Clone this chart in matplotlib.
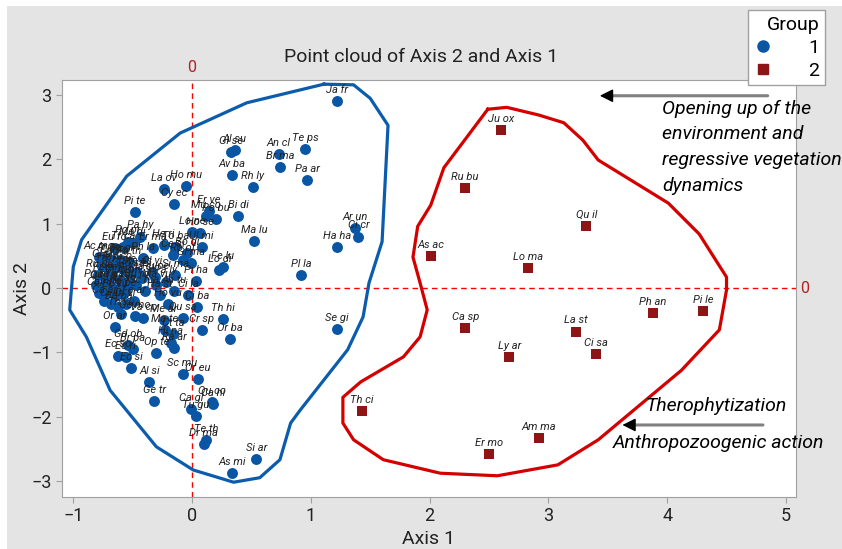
"""Point cloud of Axis 2 and Axis 1 - two groups with hulls"""
import numpy as np
import matplotlib
matplotlib.use('Agg')
import matplotlib.pyplot as plt
from matplotlib.lines import Line2D
from matplotlib.patches import Rectangle

plt.rcParams['font.family'] = ['Roboto', 'DejaVu Sans']

# ---- group 1 (blue circles) ----
g1_labels = [
    "Ja fr", "Al su", "Gl se", "An cl", "Te ps", "Br ma", "Pa ar", "Av ba", "Rh ly", "Ho mu",
    "La ov", "Cy ec", "Pi te", "Er ve", "Mu co", "Po bu", "Bi di", "Ma lu", "Ha ha", "Ar un",
    "Ci cr", "Pl la", "Se gi", "Fe lu", "Lo di", "Gl ma", "Pi ha", "Ci la", "Th hi", "Cr sp",
    "Or ba", "Ra ar", "Sc mu", "Or eu", "Qu co", "Ca hi", "Ca gi", "Tu gu", "Te th", "Dr ma",
    "Si ar", "As mi", "Ec si", "Ge tr", "Al si",
    "Eu fo", "Tr ca", "Po pr", "Pa hy", "Me di", "Er ma", "He ri", "To ba", "Lo ne", "Ho se",
    "Bo di", "Ce si", "Ro of", "Cl vi", "Ru pe", "Sm as", "Ph la", "Ul mi",
    "Ac mo", "Ar ar", "Ci mo", "Da gl", "Fu th", "Gl fl", "He ly", "My co", "Pr ve", "Ro sa",
    "Ru ul", "Fr an", "Sa ni", "Cr mo", "Ju ph", "Po ni", "Qu fa", "Ta ga", "Ul ca", "Li vu",
    "Ca ru", "Ep ne", "Ec vu", "Ox pe", "Bu ro", "Ma sy", "Sc ma", "Ma vu", "Pa ly", "Si ma",
    "Ca ar", "Ci ar", "Bo pa", "Di vi", "Fe ar", "Ha st", "An tu", "Ho vu",
    "Ge mo", "Va co", "Qu sa", "Ci ba", "Me ar", "Ma te", "Ct ta", "Hi na", "Op te", "Br pa",
    "Or ar", "Gd ob", "Ec so", "Ec ri", "Th vu",
]
g1_x = [
    1.22, 0.36, 0.33, 0.73, 0.95, 0.74, 0.97, 0.34, 0.51, -0.05,
    -0.24, -0.15, -0.48, 0.14, 0.12, 0.20, 0.39, 0.52, 1.22, 1.37,
    1.40, 0.92, 1.22, 0.26, 0.23, -0.01, 0.03, -0.03, 0.26, 0.08,
    0.32, -0.15, -0.08, 0.05, 0.17, 0.18, -0.01, 0.03, 0.12, 0.10,
    0.54, 0.34, -0.51, -0.32, -0.36,
    -0.65, -0.58, -0.54, -0.44, -0.50, -0.33, -0.24, -0.14, 0.00, 0.07,
    -0.04, -0.16, -0.08, -0.34, -0.31, -0.46, -0.41, 0.08,
    -0.78, -0.71, -0.66, -0.60, -0.53, -0.76, -0.70, -0.63, -0.57, -0.51,
    -0.79, -0.73, -0.67, -0.61, -0.54, -0.81, -0.75, -0.69, -0.62, -0.56,
    -0.78, -0.71, -0.65, -0.58, -0.47, -0.42, -0.40, -0.30, -0.22, -0.14,
    -0.74, -0.68, -0.62, -0.56, -0.49, -0.27, -0.15, -0.20,
    -0.48, -0.41, -0.08, 0.04, -0.24, -0.23, -0.16, -0.18, -0.30, -0.50,
    -0.65, -0.54, -0.62, -0.56, -0.60,
]
g1_y = [
    2.91, 2.15, 2.11, 2.08, 2.16, 1.88, 1.68, 1.76, 1.57, 1.59,
    1.54, 1.31, 1.18, 1.20, 1.12, 1.07, 1.12, 0.73, 0.64, 0.93,
    0.80, 0.20, -0.64, 0.33, 0.28, 0.39, 0.11, -0.11, -0.48, -0.65,
    -0.80, -0.93, -1.34, -1.42, -1.77, -1.80, -1.88, -1.99, -2.36, -2.43,
    -2.66, -2.88, -1.24, -1.76, -1.46,
    0.62, 0.64, 0.72, 0.80, 0.70, 0.62, 0.67, 0.64, 0.87, 0.85,
    0.54, 0.51, 0.44, 0.25, 0.17, 0.25, 0.47, 0.64,
    0.48, 0.46, 0.42, 0.44, 0.40, 0.35, 0.30, 0.33, 0.28, 0.22,
    0.20, 0.15, 0.18, 0.12, 0.10, 0.05, 0.02, 0.05, -0.02, 0.00,
    -0.08, -0.06, -0.12, -0.10, 0.05, 0.15, -0.05, 0.05, 0.10, 0.20,
    -0.20, -0.25, -0.30, -0.25, -0.20, -0.11, -0.05, -0.25,
    -0.44, -0.47, -0.47, -0.30, -0.50, -0.65, -0.72, -0.85, -1.01, -0.95,
    -0.61, -0.89, -1.05, -1.07, -0.40,
]

# ---- group 2 (red squares) ----
g2_labels = ["Ju ox", "Ru bu", "Qu il", "As ac", "Lo ma", "Ca sp", "La st",
             "Ph an", "Pi le", "Ci sa", "Ly ar", "Th ci", "Am ma", "Er mo"]
g2_x = [2.60, 2.30, 3.32, 2.01, 2.83, 2.30, 3.23, 3.88, 4.30, 3.40, 2.67, 1.43, 2.92, 2.50]
g2_y = [2.46, 1.55, 0.96, 0.50, 0.31, -0.62, -0.68, -0.39, -0.36, -1.03, -1.07, -1.91, -2.33, -2.58]

# ---- group outlines ----
hull1_x = [1.11, 1.36, 1.50, 1.65, 1.60, 1.49, 1.44, 1.31, 0.91, 0.83, 0.74, 0.57,
           0.35, 0.01, -0.30, -0.69, -0.89, -1.03, -1.00, -0.93, -0.55, -0.10, 0.46, 1.11]
hull1_y = [3.17, 3.16, 2.95, 2.53, 0.72, 0.08, -0.45, -0.96, -1.90, -2.10, -2.67, -2.95,
           -3.02, -2.83, -2.47, -1.59, -0.76, -0.34, 0.33, 0.75, 1.74, 2.41, 2.88, 3.17]
hull2_x = [2.49, 2.65, 2.92, 3.13, 3.29, 3.42, 4.01, 4.27, 4.50, 4.50, 4.44, 4.12, 3.42,
           3.08, 2.57, 2.09, 1.61, 1.36, 1.27, 1.27, 1.42, 1.78, 1.92, 1.98, 1.92, 1.86,
           1.90, 2.01, 2.12, 2.49]
hull2_y = [2.78, 2.81, 2.69, 2.57, 2.30, 1.99, 1.32, 0.84, 0.17, -0.03, -0.65, -1.28, -2.36,
           -2.75, -2.92, -2.88, -2.67, -2.36, -2.10, -1.70, -1.46, -1.07, -0.76, -0.34, 0.08,
           0.48, 0.96, 1.29, 1.87, 2.78]

BLUE = '#0A56A5'
DARKRED = '#8E1515'

fig = plt.figure(figsize=(8.42, 5.49), dpi=100)
fig.patch.set_facecolor('white')
fig.add_artist(Rectangle((7/842, 0), 1, 1 - 6/549, transform=fig.transFigure,
                         facecolor='#E4E4E4', edgecolor='none', zorder=-10))

ax = fig.add_axes([62/842, 1 - 497/549, (796 - 62)/842, (497 - 80)/549])
ax.set_facecolor('white')
ax.set_xlim(-1.095, 5.085)
ax.set_ylim(-3.25, 3.235)

# reference lines
ax.axvline(0, color='red', linestyle='--', linewidth=1, dashes=(4, 3), zorder=1)
ax.axhline(0, color='red', linestyle='--', linewidth=1, dashes=(4, 3), zorder=1)
ax.text(0, 1.012, '0', transform=ax.get_xaxis_transform(), color='#B22222',
        ha='center', va='bottom', fontsize=11.5)
ax.text(1.006, 0, '0', transform=ax.get_yaxis_transform(), color='#B22222',
        ha='left', va='center', fontsize=11.5, clip_on=False)

# outlines
ax.plot(hull1_x, hull1_y, color='#0B5CAD', linewidth=2.3, zorder=2)
ax.plot(hull2_x, hull2_y, color='#D40000', linewidth=2.3, zorder=2)

# points
ax.scatter(g1_x, g1_y, s=62, color=BLUE, marker='o', linewidths=0, zorder=3)
ax.scatter(g2_x, g2_y, s=60, color=DARKRED, marker='s', linewidths=0, zorder=3)

for lab, x, y in zip(g1_labels, g1_x, g1_y):
    ax.annotate(lab, (x, y), xytext=(0, 4.5), textcoords='offset points',
                ha='center', va='bottom', fontsize=8, style='italic', color='#222222', zorder=4)
for lab, x, y in zip(g2_labels, g2_x, g2_y):
    ax.annotate(lab, (x, y), xytext=(0, 4.5), textcoords='offset points',
                ha='center', va='bottom', fontsize=8, style='italic', color='#222222', zorder=4)

# arrows + interpretation
def arrow(x0, x1, y):
    ax.annotate('', xy=(x1 + 0.05, y), xytext=(x0, y),
                arrowprops=dict(arrowstyle='-', color='#808080', lw=2.2), zorder=5)
    ax.annotate('', xy=(x1, y), xytext=(x1 + 0.12, y),
                arrowprops=dict(arrowstyle='-|>,head_length=0.8,head_width=0.4',
                                color='black', lw=1), zorder=6)

arrow(4.87, 3.41, 2.99)
arrow(4.83, 3.60, -2.13)

ax.text(3.96, 2.93, 'Opening up of the\nenvironment and\nregressive vegetation\ndynamics',
        ha='left', va='top', fontsize=14, style='italic', linespacing=1.55,
        clip_on=False, zorder=6)
ax.text(3.82, -1.84, 'Therophytization', ha='left', va='center', fontsize=14,
        style='italic', clip_on=False, zorder=6)
ax.text(3.54, -2.41, 'Anthropozoogenic action', ha='left', va='center', fontsize=14,
        style='italic', clip_on=False, zorder=6)

# axes styling
ax.set_xticks([-1, 0, 1, 2, 3, 4, 5])
ax.set_yticks([-3, -2, -1, 0, 1, 2, 3])
ax.tick_params(direction='out', length=4, color='#A0A0A0', labelsize=13,
               labelcolor='#222222')
for sp in ax.spines.values():
    sp.set_color('#A0A0A0')
ax.set_xlabel('Axis 1', fontsize=14, color='#222222', labelpad=3)
ax.set_ylabel('Axis 2', fontsize=14, color='#222222', labelpad=0)
fig.text(0.5, 1 - 57/549, 'Point cloud of Axis 2 and Axis 1', ha='center', va='center',
         fontsize=14, color='#222222')

handles = [Line2D([], [], marker='o', linestyle='', color=BLUE, markersize=8),
           Line2D([], [], marker='s', linestyle='', color=DARKRED, markersize=7)]
leg = fig.legend(handles, ['1', '2'], title='Group', loc='upper right',
                 bbox_to_anchor=(825/842, 1 - 10/549), fontsize=14, title_fontsize=14,
                 handlelength=1.0, handletextpad=1.8, borderpad=0.3, labelspacing=0.25,
                 borderaxespad=0, fancybox=False, framealpha=1, edgecolor='#A0A0A0')
leg.get_frame().set_linewidth(1)
leg._legend_box.align = 'right'

fig.savefig('out.png', dpi=100)
